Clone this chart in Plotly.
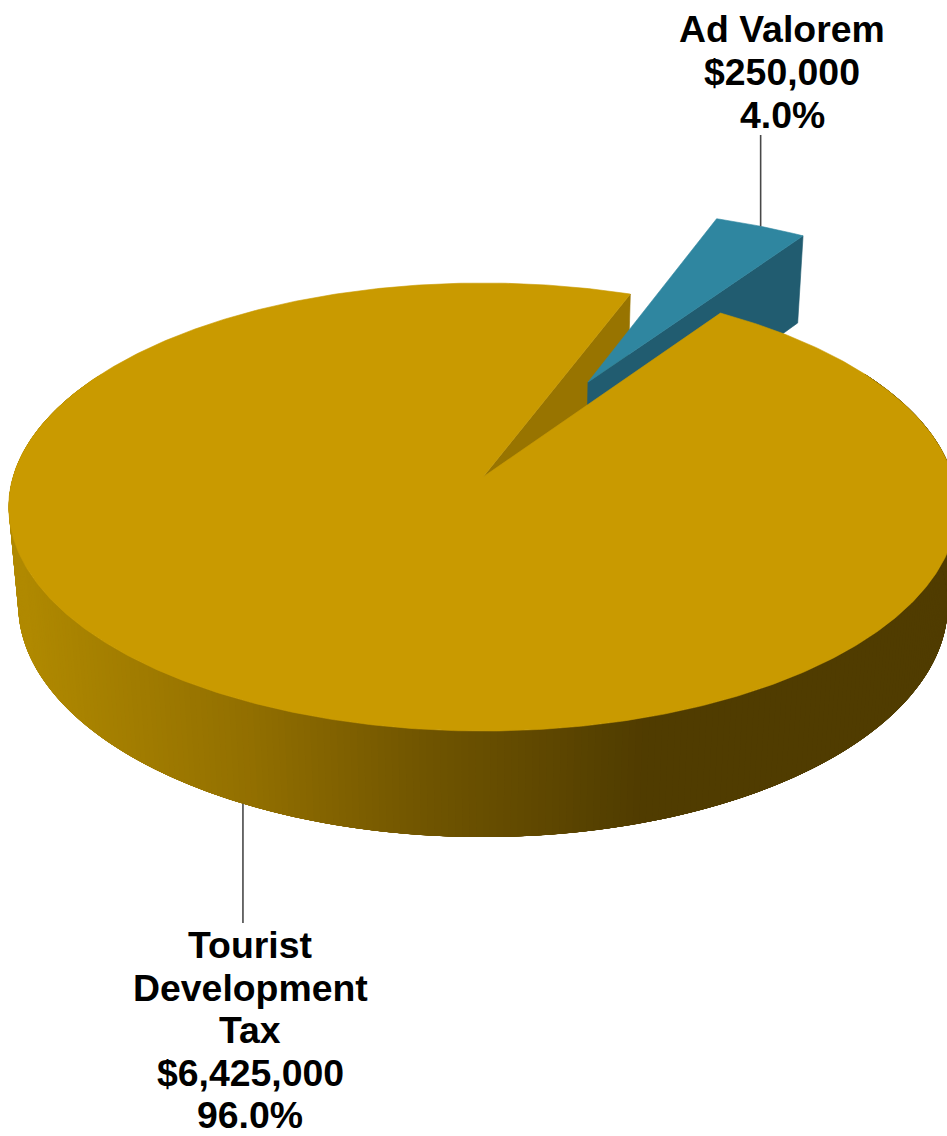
import math
import plotly.graph_objects as go

# Budget sources
categories = ["Ad Valorem", "Tourist Development Tax"]
amounts = [250000, 6425000]
percent_labels = ["4.0%", "96.0%"]
label_lines = [["Ad Valorem", "$250,000", "4.0%"],
               ["Tourist", "Development", "Tax", "$6,425,000", "96.0%"]]

WIDTH, HEIGHT = 947, 1136

# Pie styling and camera
FIRST_SLICE_MID_DEG = 27.4
EXPLODE = 0.515
CX, CY = 483, 477
SCALE_X, SCALE_Y = 470, 220
TILT = 0.134
THICKNESS, DEPTH_SHRINK = 99, 0.02

GOLD_TOP = "#C99A00"
GOLD_CUT = "#987400"
TEAL_TOP = "#2F86A0"
TEAL_SIDE = "#215C70"
WALL_STOPS = [(20, (176, 137, 0)), (245, (146, 111, 0)), (420, (112, 85, 0)), (640, (80, 60, 0)), (947, (80, 60, 0))]
LEADER_COLOR = "#484848"
FONT_SIZE = 37.4


def project(px, py, down=0.0):
    """Perspective projection of a point on the pie plane; down=1 is the underside."""
    w = 1 - TILT * py + DEPTH_SHRINK * down
    return CX + SCALE_X * px / w, CY + (SCALE_Y * py + THICKNESS * down) / w


def rim(deg, offset=(0.0, 0.0), down=0.0):
    a = math.radians(deg)
    return project(offset[0] + math.sin(a), offset[1] - math.cos(a), down)


def arc(start, end, offset=(0.0, 0.0), down=0.0, step=0.5):
    n = max(2, int(abs(end - start) / step))
    return [rim(start + (end - start) * i / n, offset, down) for i in range(n + 1)]


def wall_color(x):
    for (x0, c0), (x1, c1) in zip(WALL_STOPS, WALL_STOPS[1:]):
        if x <= x1:
            t = max(0.0, (x - x0) / (x1 - x0))
            return "rgb(%d,%d,%d)" % tuple(round(p + (q - p) * t) for p, q in zip(c0, c1))
    return "rgb(%d,%d,%d)" % WALL_STOPS[-1][1]


def polygon(points, color, name, edge=0.6):
    xs, ys = zip(*points)
    return go.Scatter(x=list(xs) + [xs[0]], y=list(ys) + [ys[0]], mode="lines", fill="toself",
                      fillcolor=color, line=dict(color=color, width=edge),
                      hoverinfo="skip", showlegend=False, name=name)


# Slice angles come from the dollar amounts
total = sum(amounts)
sweep = 360 * amounts[0] / total
start = FIRST_SLICE_MID_DEG - sweep / 2
end = FIRST_SLICE_MID_DEG + sweep / 2
mid_main = end + (360 - sweep) / 2
mid_rad = math.radians(FIRST_SLICE_MID_DEG)
shift = (EXPLODE * math.sin(mid_rad), -EXPLODE * math.cos(mid_rad))

fig = go.Figure()

# Outer wall of the large slice: strips painted left to right, each one
# running on under the next so no seams open between them
wall_angle = 300.0
while wall_angle > 60:
    nxt = wall_angle - 0.75
    far = max(60.0, wall_angle - 6.0)
    pts = arc(wall_angle, far) + arc(far, wall_angle, down=1)
    fig.add_trace(polygon(pts, wall_color(rim(wall_angle)[0]), "wall", edge=0))
    wall_angle = nxt

# Cut face of the large slice seen through the gap
fig.add_trace(polygon([project(0, 0), rim(start), rim(start, down=1), project(0, 0, 1)], GOLD_CUT, "cut face"))

# Exploded slice: radial side, then top
fig.add_trace(polygon([project(*shift), rim(end, shift), rim(end, shift, 1), project(*shift, 1)], TEAL_SIDE, categories[0] + " side"))
fig.add_trace(polygon([project(*shift)] + arc(start, end, shift), TEAL_TOP, categories[0]))

# Top of the large slice
fig.add_trace(polygon([project(0, 0)] + arc(end, start + 360), GOLD_TOP, categories[1]))

# Leader lines start from each slice's mid-angle on the rim
lead_a = rim(FIRST_SLICE_MID_DEG, shift)
lead_b = rim(mid_main, down=1)
for (x0, y0), y1 in ((lead_a, 135), (lead_b, 923)):
    fig.add_trace(go.Scatter(x=[x0, x0], y=[y0, y1], mode="lines",
                             line=dict(color=LEADER_COLOR, width=1.6),
                             hoverinfo="skip", showlegend=False))

# Labels: one annotation per line for tight leading
label_anchors = [(782, 29, 43), (250, 945, 42.5)]
for lines, (ax, ay, gap) in zip(label_lines, label_anchors):
    for i, line in enumerate(lines):
        fig.add_annotation(x=ax, y=ay + i * gap, text="<b>%s</b>" % line, showarrow=False,
                           xanchor="center", yanchor="middle",
                           font=dict(family="Liberation Sans, Arial, sans-serif", size=FONT_SIZE, color="#000000"))

fig.update_layout(width=WIDTH, height=HEIGHT, margin=dict(l=0, r=0, t=0, b=0),
                  paper_bgcolor="white", plot_bgcolor="white", showlegend=False,
                  xaxis=dict(range=[0, WIDTH], visible=False, fixedrange=True),
                  yaxis=dict(range=[HEIGHT, 0], visible=False, fixedrange=True))

fig.write_html("out.html", config={"displayModeBar": False})
